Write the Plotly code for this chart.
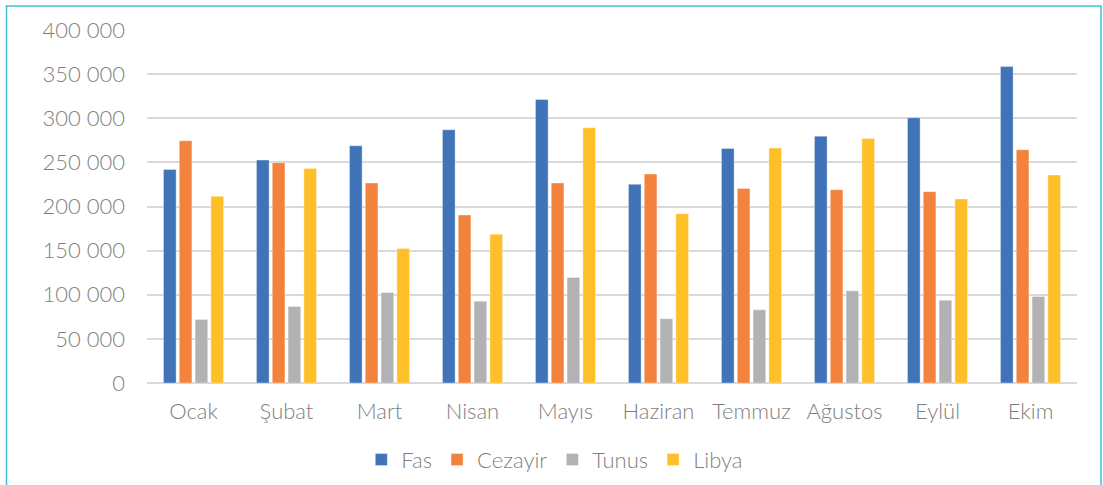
import plotly.graph_objects as go

months = ["Ocak", "Şubat", "Mart", "Nisan", "Mayıs", "Haziran", "Temmuz", "Ağustos", "Eylül", "Ekim"]
fas = [242000, 252600, 268800, 286900, 321200, 225100, 265800, 279700, 300500, 358500]
cezayir = [274500, 249600, 226600, 190400, 226600, 236800, 220500, 219000, 216800, 264300]
tunus = [72000, 86700, 102500, 92700, 119500, 72800, 82900, 104400, 93900, 98000]
libya = [211500, 243200, 152300, 168500, 289200, 191900, 266200, 277100, 208500, 235600]

series_names = ["Fas", "Cezayir", "Tunus", "Libya"]
series_values = [fas, cezayir, tunus, libya]
colors = ["#4173B8", "#F2823C", "#B2B2B5", "#FEBF29"]

y_tickvals = [0, 50000, 100000, 150000, 200000, 250000, 300000, 350000, 400000]
y_ticktext = ["0", "50 000", "100 000", "150 000", "200 000", "250 000", "300 000", "350 000", "400 000"]

text_color = "#7F7F7F"
font_family = "Lato, 'Open Sans', sans-serif"
fs = 22

fig = go.Figure()
for name, vals, col in zip(series_names, series_values, colors):
    fig.add_trace(go.Bar(
        x=months, y=vals, name=name,
        marker=dict(color=col, line=dict(color="rgba(255,255,255,0.6)", width=0.6)),
    ))

W, H = 1103, 485
L, R, T, B = 147, 26, 29.5, 102
pw, ph = W - L - R, H - T - B

def px_to_paper_x(px):
    return (px - L) / pw

def px_to_paper_y(py):
    return (H - B - py) / ph

fig.update_layout(
    width=W, height=H,
    margin=dict(l=L, r=R, t=T, b=B, autoexpand=False),
    paper_bgcolor="white", plot_bgcolor="white",
    barmode="group", bargap=0.32, bargroupgap=0.2,
    font=dict(family=font_family, size=fs, color=text_color, weight=300),
    showlegend=True,
    legend=dict(
        orientation="h", xref="container", yref="container",
        x=0.503, xanchor="center", y=0.052, yanchor="middle",
        font=dict(size=fs, color=text_color, weight=300),
        itemwidth=30, traceorder="normal",
    ),
    xaxis=dict(
        showgrid=False, showline=False, ticks="",
        tickfont=dict(size=fs, color=text_color, weight=300),
        ticklabelstandoff=13,
    ),
    yaxis=dict(
        range=[0, 400000], tickvals=y_tickvals, ticktext=y_ticktext,
        showgrid=True, gridcolor="#D9D9D9", gridwidth=1.6,
        zeroline=True, zerolinecolor="#D9D9D9", zerolinewidth=1.6,
        showline=False, ticks="",
        tickfont=dict(size=fs, color=text_color, weight=300),
        ticklabelstandoff=21,
    ),
    shapes=[
        dict(type="rect", xref="paper", yref="paper",
             x0=px_to_paper_x(6.5), x1=px_to_paper_x(1101),
             y0=px_to_paper_y(490), y1=px_to_paper_y(5.5),
             line=dict(color="#3CC3D8", width=1.5), fillcolor="rgba(0,0,0,0)",
             layer="below"),
    ],
)

fig.write_html(
    "out.html",
    config={"displayModeBar": False},
    post_script="document.body.style.margin='0';document.body.style.padding='0';",
)
